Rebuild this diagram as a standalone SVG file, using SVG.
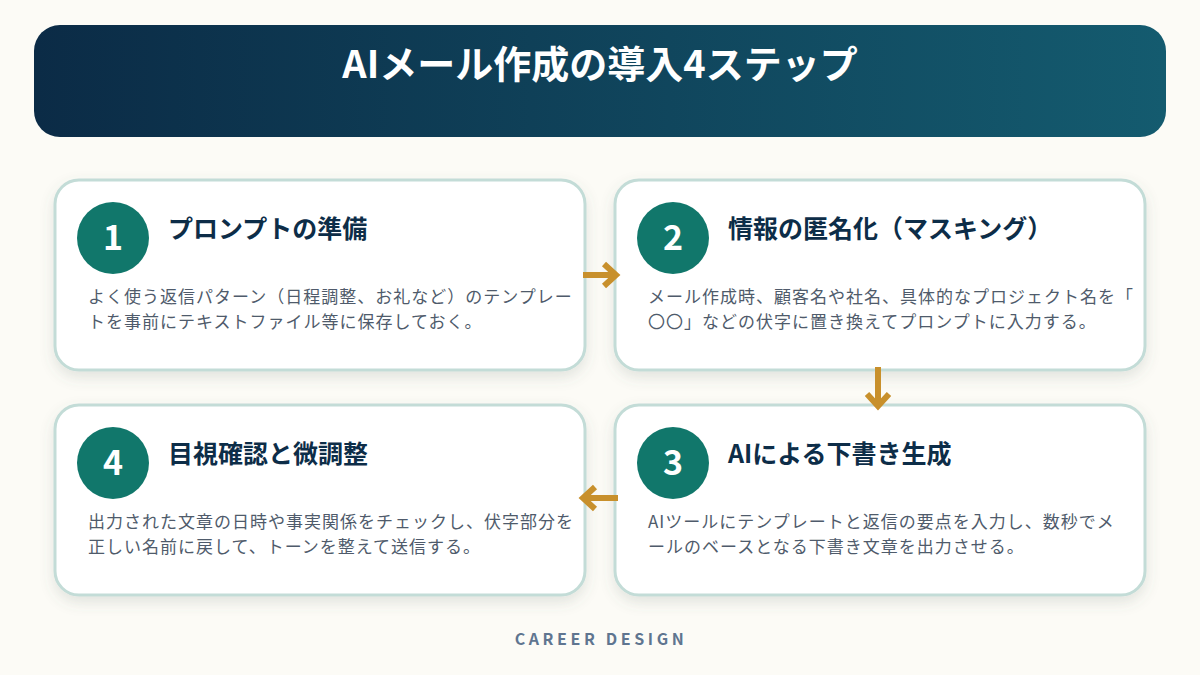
<svg xmlns="http://www.w3.org/2000/svg" width="1200" height="675" viewBox="0 0 1200 675">
<defs>
<linearGradient id="hdr" x1="0" y1="0" x2="1" y2="0">
<stop offset="0" stop-color="#0b2b46"/>
<stop offset="1" stop-color="#145b6f"/>
</linearGradient>
<filter id="sh" x="-10%" y="-15%" width="120%" height="140%">
<feDropShadow dx="0" dy="6" stdDeviation="7" flood-color="#5a6a60" flood-opacity="0.16"/>
</filter>
</defs>
<style>
.card{fill:#ffffff;stroke:#c3dcd7;stroke-width:3;filter:url(#sh)}
.num{fill:#11776b}
.numt{font-family:"Noto Sans CJK JP","Noto Sans",sans-serif;font-weight:700;font-size:34px;fill:#ffffff;text-anchor:middle}
.ttl{font-family:"Noto Sans CJK JP",sans-serif;font-weight:700;font-size:25px;fill:#0d2d48}
.body{font-family:"Noto Sans CJK JP",sans-serif;font-size:17px;fill:#4f5b6b;letter-spacing:1px}
.arr{fill:none;stroke:#c8902c;stroke-width:6;stroke-linecap:butt;stroke-linejoin:miter}
</style>
<rect width="1200" height="675" fill="#fcfbf6"/>
<g id="header">
<rect x="34" y="25" width="1132" height="112" rx="26" fill="url(#hdr)"/>
<text x="600" y="78" text-anchor="middle" font-family="Noto Sans CJK JP,sans-serif" font-weight="700" font-size="38" fill="#ffffff">AIメール作成の導入4ステップ</text>
</g>
<g id="step1">
<rect class="card" x="55" y="180" width="530" height="190" rx="24"/>
<circle class="num" cx="113" cy="238" r="36"/>
<text class="numt" x="113" y="250">1</text>
<text class="ttl" x="168" y="238">プロンプトの準備</text>
<text class="body" x="88" y="303">よく使う返信パターン（日程調整、お礼など）のテンプレー</text>
<text class="body" x="88" y="328">トを事前にテキストファイル等に保存しておく。</text>
</g>
<g id="step2">
<rect class="card" x="615" y="180" width="530" height="190" rx="24"/>
<circle class="num" cx="673" cy="238" r="36"/>
<text class="numt" x="673" y="250">2</text>
<text class="ttl" x="728" y="238">情報の匿名化（マスキング）</text>
<text class="body" x="648" y="303">メール作成時、顧客名や社名、具体的なプロジェクト名を「</text>
<text class="body" x="648" y="328">〇〇」などの伏字に置き換えてプロンプトに入力する。</text>
</g>
<g id="step3">
<rect class="card" x="615" y="405" width="530" height="190" rx="24"/>
<circle class="num" cx="673" cy="463" r="36"/>
<text class="numt" x="673" y="475">3</text>
<text class="ttl" x="728" y="463">AIによる下書き生成</text>
<text class="body" x="648" y="528">AIツールにテンプレートと返信の要点を入力し、数秒でメ</text>
<text class="body" x="648" y="553">ールのベースとなる下書き文章を出力させる。</text>
</g>
<g id="step4">
<rect class="card" x="55" y="405" width="530" height="190" rx="24"/>
<circle class="num" cx="113" cy="463" r="36"/>
<text class="numt" x="113" y="475">4</text>
<text class="ttl" x="168" y="463">目視確認と微調整</text>
<text class="body" x="88" y="528">出力された文章の日時や事実関係をチェックし、伏字部分を</text>
<text class="body" x="88" y="553">正しい名前に戻して、トーンを整えて送信する。</text>
</g>
<g id="connectors">
<path class="arr" d="M583 275 H615 M604 264 L616 275 L604 286"/>
<path class="arr" d="M878 367 V405 M867 394 L878 406 L889 394"/>
<path class="arr" d="M618 498 H584 M595 487 L583 498 L595 509"/>
</g>
<g id="footer">
<text x="601" y="645" text-anchor="middle" font-family="Noto Sans CJK JP,sans-serif" font-weight="700" font-size="16" letter-spacing="3.6" fill="#5f7590">CAREER DESIGN</text>
</g>
</svg>
